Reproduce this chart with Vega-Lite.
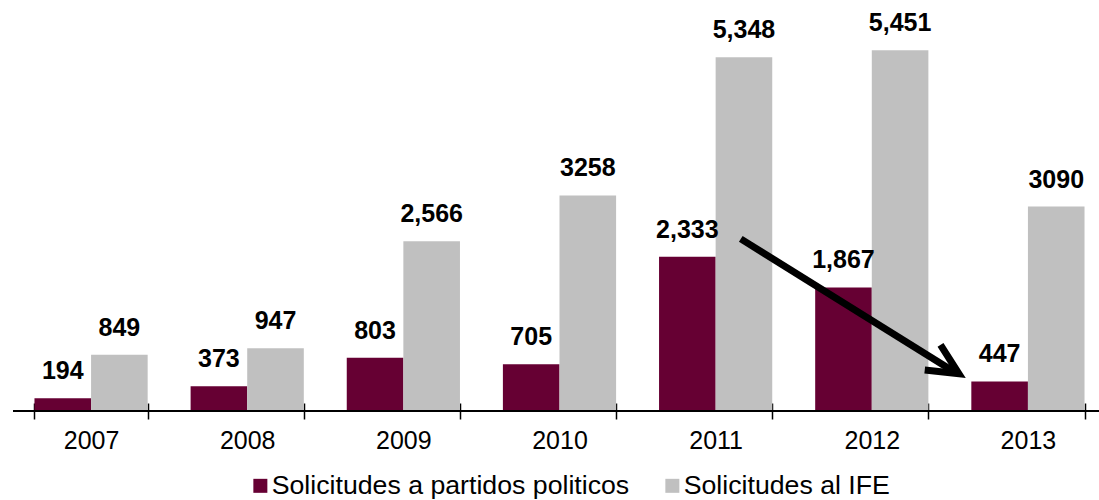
{
  "$schema": "https://vega.github.io/schema/vega-lite/v6.json",
  "width": 1093,
  "height": 397,
  "padding": {"left": 12, "top": 11, "right": 0, "bottom": 0},
  "autosize": {"type": "pad"},
  "config": {"view": {"stroke": null}, "font": "Liberation Sans"},
  "datasets": {
    "bars": [
      {"year": "2007", "series": "Solicitudes a partidos politicos", "value": 194, "label": "194"},
      {"year": "2007", "series": "Solicitudes al IFE", "value": 849, "label": "849"},
      {"year": "2008", "series": "Solicitudes a partidos politicos", "value": 373, "label": "373"},
      {"year": "2008", "series": "Solicitudes al IFE", "value": 947, "label": "947"},
      {"year": "2009", "series": "Solicitudes a partidos politicos", "value": 803, "label": "803"},
      {"year": "2009", "series": "Solicitudes al IFE", "value": 2566, "label": "2,566"},
      {"year": "2010", "series": "Solicitudes a partidos politicos", "value": 705, "label": "705"},
      {"year": "2010", "series": "Solicitudes al IFE", "value": 3258, "label": "3258"},
      {"year": "2011", "series": "Solicitudes a partidos politicos", "value": 2333, "label": "2,333"},
      {"year": "2011", "series": "Solicitudes al IFE", "value": 5348, "label": "5,348"},
      {"year": "2012", "series": "Solicitudes a partidos politicos", "value": 1867, "label": "1,867"},
      {"year": "2012", "series": "Solicitudes al IFE", "value": 5451, "label": "5,451"},
      {"year": "2013", "series": "Solicitudes a partidos politicos", "value": 447, "label": "447"},
      {"year": "2013", "series": "Solicitudes al IFE", "value": 3090, "label": "3090"}
    ],
    "arrow": [{"x": 4.661, "y": 2601}, {"x": 6.04, "y": 575}],
    "head": [{"x": 6.058, "y": 562}]
  },
  "layer": [
    {
      "layer": [
        {
          "data": {"name": "bars"},
          "mark": {"type": "bar"},
          "encoding": {
            "x": {"field": "year", "type": "nominal", "scale": {"paddingInner": 0.275, "paddingOuter": 0.1375},
              "axis": {"title": null, "domain": false, "tickBand": "extent", "tickSize": 16, "offset": -8, "tickColor": "black", "tickWidth": 1.5, "labelFontSize": 25, "labelColor": "black", "labelPadding": 9, "labelAngle": 0}},
            "xOffset": {"field": "series", "type": "nominal", "sort": ["Solicitudes a partidos politicos", "Solicitudes al IFE"]},
            "y": {"field": "value", "type": "quantitative", "scale": {"domain": [0, 6000], "nice": false}, "axis": null},
            "color": {"field": "series", "type": "nominal",
              "scale": {"domain": ["Solicitudes a partidos politicos", "Solicitudes al IFE"], "range": ["#660033", "#C0C0C0"]},
              "legend": {"title": null, "orient": "none", "legendX": 234, "legendY": 458, "padding": 0, "direction": "horizontal", "symbolType": "square", "symbolSize": 196, "symbolStrokeWidth": 0, "symbolOpacity": 1, "labelFontSize": 26.7, "labelColor": "black", "labelOffset": -2, "columnPadding": 29, "labelLimit": 500}}
          }
        },
        {
          "data": {"name": "bars"},
          "mark": {"type": "text", "fontWeight": "bold", "fontSize": 25, "baseline": "bottom", "dy": -14, "color": "black"},
          "encoding": {
            "x": {"field": "year", "type": "nominal"},
            "xOffset": {"field": "series", "type": "nominal", "sort": ["Solicitudes a partidos politicos", "Solicitudes al IFE"]},
            "y": {"field": "value", "type": "quantitative"},
            "text": {"field": "label"}
          }
        },
        {
          "data": {"values": [{}]},
          "mark": {"type": "rule", "color": "black", "strokeWidth": 2},
          "encoding": {"y": {"datum": 0}}
        }
      ]
    },
    {
      "layer": [
        {
          "data": {"name": "arrow"},
          "mark": {"type": "line", "color": "black", "strokeWidth": 7, "strokeCap": "butt"},
          "encoding": {
            "x": {"field": "x", "type": "quantitative", "scale": {"domain": [0, 7], "nice": false, "zero": false}, "axis": null},
            "y": {"field": "y", "type": "quantitative"}
          }
        },
        {
          "data": {"name": "head"},
          "mark": {"type": "point", "shape": "M-1,-0.48L0,0L-1,0.48", "filled": false, "stroke": "black", "strokeWidth": 7, "size": 3844, "angle": 32, "opacity": 1},
          "encoding": {
            "x": {"field": "x", "type": "quantitative"},
            "y": {"field": "y", "type": "quantitative"}
          }
        }
      ]
    }
  ],
  "resolve": {"scale": {"x": "independent"}}
}
